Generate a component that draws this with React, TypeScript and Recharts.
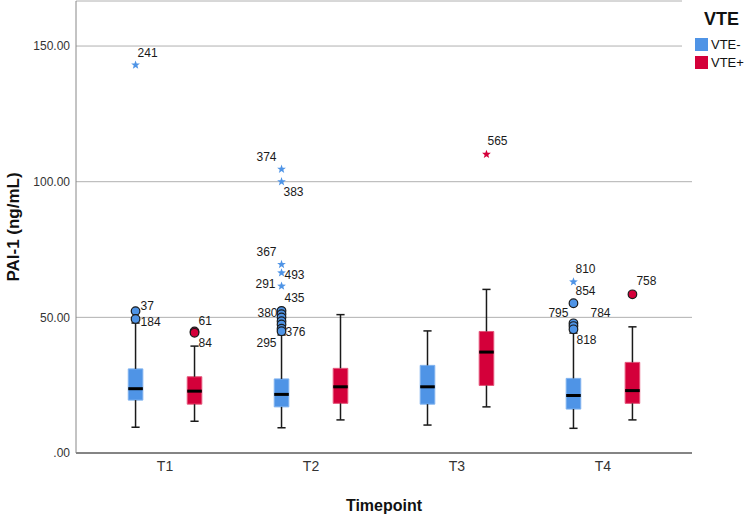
import {
  CartesianGrid,
  ComposedChart,
  Legend,
  ReferenceArea,
  ReferenceLine,
  Scatter,
  XAxis,
  YAxis,
} from "recharts";

const FONT = "'Liberation Sans', Arial, sans-serif";
const BLUE = "#4f94e6";
const BLUE_EDGE = "#7fb2ef";
const RED = "#d4003a";
const RED_EDGE = "#e5557a";

const timepoints = ["T1", "T2", "T3", "T4"];
const yTicks = [0, 50, 100, 150];
const legendOrder = ["VTE-", "VTE+"];

// VTE- box stats per timepoint
const negMin = [9.5, 9.3, 10.3, 9.1];
const negQ1 = [19.5, 17.0, 18.0, 16.2];
const negMedian = [23.7, 21.6, 24.4, 21.2];
const negQ3 = [31.0, 27.3, 32.3, 27.5];
const negMax = [47.9, 43.5, 45.0, 44.2];

// VTE+ box stats per timepoint
const posMin = [11.7, 12.2, 17.0, 12.2];
const posQ1 = [18.0, 18.3, 24.9, 18.3];
const posMedian = [22.8, 24.4, 37.2, 23.0];
const posQ3 = [28.1, 31.2, 44.8, 33.4];
const posMax = [39.4, 51.0, 60.3, 46.5];

type Outlier = { t: number; value: number; id: string; kind: "circle" | "star" };

const negOutliers: Outlier[] = [
  { t: 0, value: 143.0, id: "241", kind: "star" },
  { t: 0, value: 52.3, id: "37", kind: "circle" },
  { t: 0, value: 49.4, id: "184", kind: "circle" },
  { t: 1, value: 104.6, id: "374", kind: "star" },
  { t: 1, value: 100.0, id: "383", kind: "star" },
  { t: 1, value: 69.5, id: "367", kind: "star" },
  { t: 1, value: 66.4, id: "493", kind: "star" },
  { t: 1, value: 61.5, id: "291", kind: "star" },
  { t: 1, value: 52.4, id: "435", kind: "circle" },
  { t: 1, value: 51.2, id: "", kind: "circle" },
  { t: 1, value: 50.0, id: "380", kind: "circle" },
  { t: 1, value: 48.6, id: "", kind: "circle" },
  { t: 1, value: 47.4, id: "", kind: "circle" },
  { t: 1, value: 45.8, id: "295", kind: "circle" },
  { t: 1, value: 44.9, id: "376", kind: "circle" },
  { t: 3, value: 63.1, id: "810", kind: "star" },
  { t: 3, value: 55.2, id: "854", kind: "circle" },
  { t: 3, value: 47.8, id: "795", kind: "circle" },
  { t: 3, value: 46.8, id: "784", kind: "circle" },
  { t: 3, value: 45.6, id: "818", kind: "circle" },
];

const posOutliers: Outlier[] = [
  { t: 0, value: 44.8, id: "61", kind: "circle" },
  { t: 0, value: 44.3, id: "84", kind: "circle" },
  { t: 2, value: 110.1, id: "565", kind: "star" },
  { t: 3, value: 58.5, id: "758", kind: "circle" },
];

// where each case number sits next to its point: [dx, dy, anchor]
const labelPlace: Record<string, [number, number, "start" | "end"]> = {
  "241": [2, -12, "start"],
  "37": [5, -5, "start"],
  "184": [5, 3, "start"],
  "374": [-5, -12, "end"],
  "383": [2, 10, "start"],
  "367": [-5, -12, "end"],
  "493": [3, 2, "start"],
  "291": [-6, -2, "end"],
  "435": [3, -13, "start"],
  "380": [-4, -4, "end"],
  "295": [-5, 14, "end"],
  "376": [4, 1, "start"],
  "810": [2, -13, "start"],
  "854": [2, -12, "start"],
  "795": [-5, -10, "end"],
  "784": [17, -13, "start"],
  "818": [3, 11, "start"],
  "61": [4, -10, "start"],
  "84": [4, 10, "start"],
  "565": [1, -13, "start"],
  "758": [4, -13, "start"],
};

const GROUP_OFFSET = 0.202;
const BOX_HALF = 0.05;
const CAP_HALF = 0.028;

const groups = [
  {
    name: "VTE-",
    offset: -GROUP_OFFSET,
    fill: BLUE,
    edge: BLUE_EDGE,
    min: negMin,
    q1: negQ1,
    median: negMedian,
    q3: negQ3,
    max: negMax,
    outliers: negOutliers,
  },
  {
    name: "VTE+",
    offset: GROUP_OFFSET,
    fill: RED,
    edge: RED_EDGE,
    min: posMin,
    q1: posQ1,
    median: posMedian,
    q3: posQ3,
    max: posMax,
    outliers: posOutliers,
  },
];

function starPoints(cx: number, cy: number, outer: number, inner: number) {
  const pts: string[] = [];
  for (let i = 0; i < 10; i++) {
    const r = i % 2 === 0 ? outer : inner;
    const a = -Math.PI / 2 + (i * Math.PI) / 5;
    pts.push(`${cx + r * Math.cos(a)},${cy + r * Math.sin(a)}`);
  }
  return pts.join(" ");
}

function makeOutlierShape(color: string) {
  return (props: any) => {
    const { cx, cy, payload } = props;
    if (cx == null || cy == null) return <g />;
    const place = labelPlace[payload.id];
    return (
      <g>
        {payload.kind === "star" ? (
          <polygon points={starPoints(cx, cy, 4.6, 1.9)} fill={color} />
        ) : (
          <circle cx={cx} cy={cy} r={4.3} fill={color} stroke="#1a1a1a" strokeWidth={1.2} />
        )}
        {place && (
          <text
            x={cx + place[0]}
            y={cy + place[1]}
            textAnchor={place[2]}
            dominantBaseline="central"
            fontSize={12}
            fill="#1a1a1a"
            fontFamily={FONT}
          >
            {payload.id}
          </text>
        )}
      </g>
    );
  };
}

function renderLegend({ payload }: any) {
  const items = (payload ?? [])
    .filter((p: any) => legendOrder.includes(p.value))
    .sort((a: any, b: any) => legendOrder.indexOf(a.value) - legendOrder.indexOf(b.value));
  return (
    <div style={{ background: "#fff", fontFamily: FONT, height: 76, paddingTop: 10, boxSizing: "border-box" }}>
      <div style={{ fontSize: 18, fontWeight: "bold", lineHeight: "18px", marginLeft: 22, color: "#111" }}>
        VTE
      </div>
      <div style={{ marginTop: 7 }}>
        {items.map((entry: any) => (
          <div key={entry.value} style={{ display: "flex", alignItems: "center", height: 18 }}>
            <span
              style={{
                display: "inline-block",
                width: 13,
                height: 13,
                marginLeft: 13,
                background: entry.color,
              }}
            />
            <span style={{ fontSize: 13, marginLeft: 3, color: "#111" }}>{entry.value}</span>
          </div>
        ))}
      </div>
    </div>
  );
}

export default function App() {
  return (
    <div style={{ width: 750, height: 517, fontFamily: FONT, background: "#fff" }}>
      <style>{"body{margin:0}"}</style>
      <ComposedChart width={750} height={517} margin={{ top: 1, right: 58, bottom: 24, left: 0 }}>
        <CartesianGrid vertical={false} stroke="#b0b0b0" />
        <XAxis
          type="number"
          dataKey="x"
          domain={[-0.61, 3.61]}
          ticks={[0, 1, 2, 3]}
          tickFormatter={(v: number) => timepoints[v] ?? ""}
          tickLine={false}
          axisLine={{ stroke: "#333" }}
          tick={{ fill: "#333", fontSize: 14 }}
          height={40}
          allowDataOverflow
          label={{
            value: "Timepoint",
            position: "bottom",
            offset: 7,
            style: { fontSize: 16, fontWeight: "bold", fill: "#111" },
          }}
        />
        <YAxis
          type="number"
          dataKey="y"
          domain={[0, 166.6]}
          ticks={yTicks}
          tickFormatter={(v: number) => (v === 0 ? ".00" : v.toFixed(2))}
          tickLine={false}
          tickSize={4}
          tickMargin={2}
          axisLine={{ stroke: "#888" }}
          tick={{ fill: "#333", fontSize: 12 }}
          width={76}
          allowDataOverflow
          label={{
            value: "PAI-1 (ng/mL)",
            angle: -90,
            position: "insideLeft",
            offset: 13,
            style: { fontSize: 17, fontWeight: "bold", fill: "#111", textAnchor: "middle" },
          }}
        />

        {groups.map((g) =>
          timepoints.map((_, i) => {
            const c = i + g.offset;
            return (
              <g key={`${g.name}-${i}`}>
                <ReferenceLine
                  segment={[{ x: c, y: g.q3[i] }, { x: c, y: g.max[i] }]}
                  stroke="#1a1a1a"
                  strokeWidth={1.5}
                />
                <ReferenceLine
                  segment={[{ x: c, y: g.min[i] }, { x: c, y: g.q1[i] }]}
                  stroke="#1a1a1a"
                  strokeWidth={1.5}
                />
                <ReferenceLine
                  segment={[{ x: c - CAP_HALF, y: g.max[i] }, { x: c + CAP_HALF, y: g.max[i] }]}
                  stroke="#1a1a1a"
                  strokeWidth={1.5}
                />
                <ReferenceLine
                  segment={[{ x: c - CAP_HALF, y: g.min[i] }, { x: c + CAP_HALF, y: g.min[i] }]}
                  stroke="#1a1a1a"
                  strokeWidth={1.5}
                />
                <ReferenceArea
                  x1={c - BOX_HALF}
                  x2={c + BOX_HALF}
                  y1={g.q1[i]}
                  y2={g.q3[i]}
                  fill={g.fill}
                  fillOpacity={1}
                  stroke={g.edge}
                  strokeWidth={1}
                />
                <ReferenceLine
                  segment={[{ x: c - BOX_HALF, y: g.median[i] }, { x: c + BOX_HALF, y: g.median[i] }]}
                  stroke="#000"
                  strokeWidth={3}
                />
              </g>
            );
          })
        )}

        {groups.map((g) => (
          <Scatter
            key={g.name}
            name={g.name}
            data={g.outliers.map((o) => ({ ...o, x: o.t + g.offset, y: o.value }))}
            fill={g.fill}
            shape={makeOutlierShape(g.fill)}
            isAnimationActive={false}
          />
        ))}

        <Legend
          layout="vertical"
          align="center"
          verticalAlign="middle"
          content={renderLegend}
          wrapperStyle={{ left: 682, top: 0, width: 68, height: 76 }}
        />
      </ComposedChart>
    </div>
  );
}
